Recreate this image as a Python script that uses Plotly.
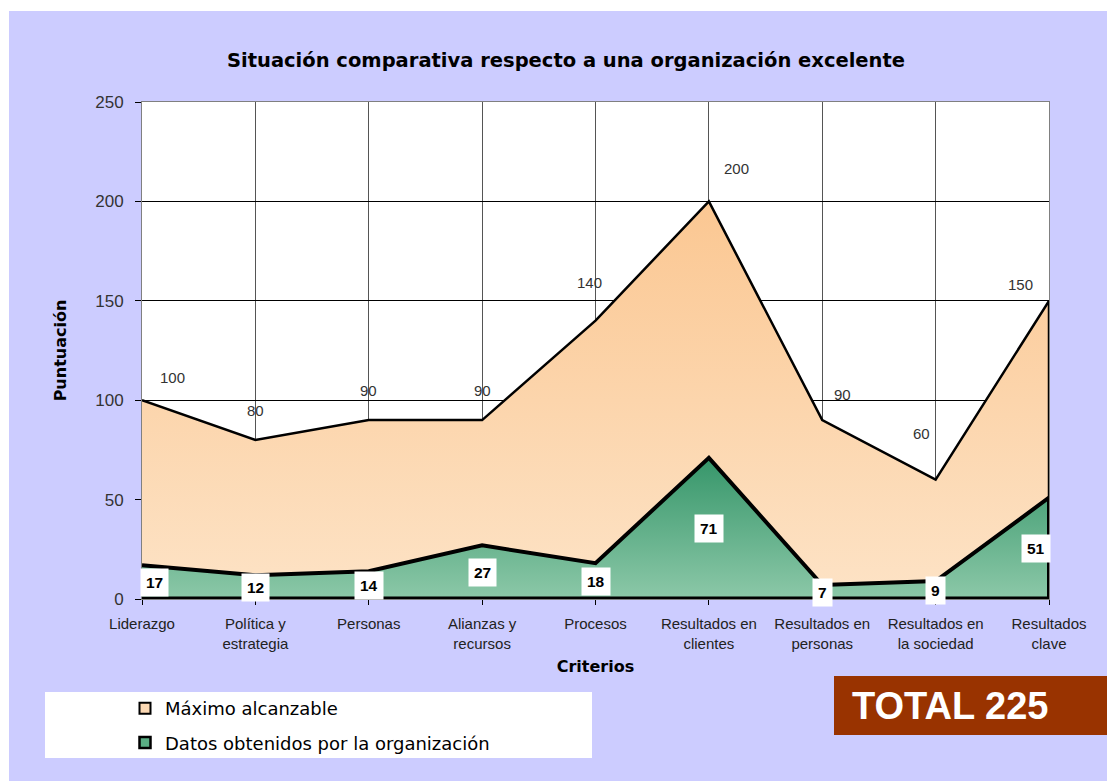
import plotly.graph_objects as go

categorias = ["Liderazgo", "Política y<br>estrategia", "Personas", "Alianzas y<br>recursos",
              "Procesos", "Resultados en<br>clientes", "Resultados en<br>personas",
              "Resultados en<br>la sociedad", "Resultados<br>clave"]
maximo = [100, 80, 90, 90, 140, 200, 90, 60, 150]
datos = [17, 12, 14, 27, 18, 71, 7, 9, 51]
y_ticks = [0, 50, 100, 150, 200, 250]
total = 225

# label offsets (pixels) for the "máximo" value labels
max_label_offsets = [(30, 23), (0, 29), (0, 30), (0, 30), (-6, 38), (28, 33), (20, 26), (-14, 46), (-29, 16)]

W, H = 1107, 781
L, R, T, B = 142, 1049, 102, 599

def px(x):  # pixel -> paper
    return (x - L) / (R - L)

def py(y):
    return (B - y) / (B - T)

xs = list(range(len(categorias)))

fig = go.Figure()

fig.add_trace(go.Scatter(
    x=xs, y=maximo, mode="lines", fill="tozeroy",
    line=dict(color="black", width=2.5),
    fillgradient=dict(type="vertical", colorscale=[[0, "#FDE3C6"], [1, "#FBC792"]],
                      start=0, stop=max(maximo)),
    showlegend=False, hoverinfo="skip"))

fig.add_trace(go.Scatter(
    x=xs, y=datos, mode="lines", fill="tozeroy",
    line=dict(color="black", width=4),
    fillgradient=dict(type="vertical", colorscale=[[0, "#8CC8A8"], [1, "#36966A"]],
                      start=0, stop=max(datos)),
    showlegend=False, hoverinfo="skip"))

# legend entries
fig.add_trace(go.Scatter(x=[None], y=[None], mode="markers", name="Máximo alcanzable",
                         marker=dict(symbol="square", size=11, color="#FCD9B4",
                                     line=dict(color="black", width=2)),
                         legendgroup="a"))
fig.add_trace(go.Scatter(x=[None], y=[None], mode="markers", name="Datos obtenidos por la organización",
                         marker=dict(symbol="square", size=11, color="#5AAE84",
                                     line=dict(color="black", width=2.5)),
                         legendgroup="b"))

annotations = []
for i, v in enumerate(maximo):
    dx, dy = max_label_offsets[i]
    annotations.append(dict(x=xs[i], y=v, text=str(v), showarrow=False, xshift=dx, yshift=dy,
                            font=dict(family="Liberation Sans, Arial", size=15, color="#333333")))

n = len(datos)
for i, v in enumerate(datos):
    if i == 0:
        xa, xsft = "left", -2
    elif i == n - 1:
        xa, xsft = "right", 2
    else:
        xa, xsft = "center", 0
    annotations.append(dict(x=xs[i], y=v / 2, text="<b>%d</b>" % v, showarrow=False,
                            xanchor=xa, xshift=xsft, bgcolor="white", borderpad=5,
                            font=dict(family="Liberation Sans, Arial", size=15.5, color="black")))

annotations.append(dict(xref="paper", yref="paper", x=px(850), y=py(706), xanchor="left",
                        yanchor="middle", text="<b>TOTAL %d</b>" % total, showarrow=False,
                        font=dict(family="Liberation Sans, Arial", size=38, color="white")))

shapes = [
    dict(type="rect", xref="paper", yref="paper", x0=px(0), x1=px(W), y0=py(11), y1=py(0),
         fillcolor="white", line=dict(width=0), layer="below"),
    dict(type="rect", xref="paper", yref="paper", x0=px(0), x1=px(9), y0=py(H), y1=py(0),
         fillcolor="white", line=dict(width=0), layer="below"),
    dict(type="rect", xref="paper", yref="paper", x0=px(45), x1=px(592), y0=py(758), y1=py(692),
         fillcolor="white", line=dict(width=0), layer="below"),
    dict(type="rect", xref="paper", yref="paper", x0=px(834), x1=px(W), y0=py(735), y1=py(676),
         fillcolor="#993300", line=dict(width=0), layer="below"),
    # area borders: bottom and right edge
    dict(type="line", x0=xs[-1], x1=xs[-1], y0=datos[-1], y1=maximo[-1],
         line=dict(color="black", width=2.5), layer="above"),
    dict(type="line", x0=xs[-1], x1=xs[-1], y0=0, y1=datos[-1],
         line=dict(color="black", width=4), layer="above"),
    dict(type="line", x0=xs[0], x1=xs[-1], y0=0, y1=0,
         line=dict(color="black", width=5), layer="above"),
]

fig.update_layout(
    width=W, height=H,
    margin=dict(l=L, r=W - R, t=T, b=H - B),
    paper_bgcolor="#CCCCFF", plot_bgcolor="white",
    font=dict(family="Liberation Sans, Arial", color="black"),
    title=dict(text="<b>Situación comparativa respecto a una organización excelente</b>",
               xref="paper", x=px(566), xanchor="center", y=1 - 60 / H, yanchor="middle",
               font=dict(family="DejaVu Sans", size=19.5, color="black")),
    xaxis=dict(range=[0, len(categorias) - 1], tickvals=xs, ticktext=categorias,
               showgrid=True, gridcolor="#555555", gridwidth=1.2,
               showline=True, linecolor="#808080", mirror=True,
               ticks="outside", ticklen=5, tickcolor="black",
               ticklabelstandoff=6,
               tickfont=dict(size=15, color="#222222"),
               title=dict(text="<b>Criterios</b>", font=dict(family="DejaVu Sans", size=16), standoff=10),
               zeroline=False, fixedrange=True),
    yaxis=dict(range=[0, 250], tickvals=y_ticks, showgrid=True, gridcolor="black", gridwidth=1,
               showline=True, linecolor="#808080", mirror=True,
               ticks="outside", ticklen=6, tickcolor="black",
               ticklabelstandoff=8,
               tickfont=dict(size=17, color="#333333"),
               title=dict(text="<b>Puntuación</b>", font=dict(family="DejaVu Sans", size=16), standoff=24),
               zeroline=False, fixedrange=True),
    legend=dict(x=px(125), y=py(690), xanchor="left", yanchor="top",
                bgcolor="rgba(0,0,0,0)", traceorder="grouped", tracegroupgap=8,
                font=dict(family="DejaVu Sans", size=18, color="black"),
                itemwidth=30),
    annotations=annotations,
    shapes=shapes,
)

fig.write_html("out.html", config={"displayModeBar": False},
               post_script="document.body.style.margin='0';document.body.style.overflow='hidden';")
